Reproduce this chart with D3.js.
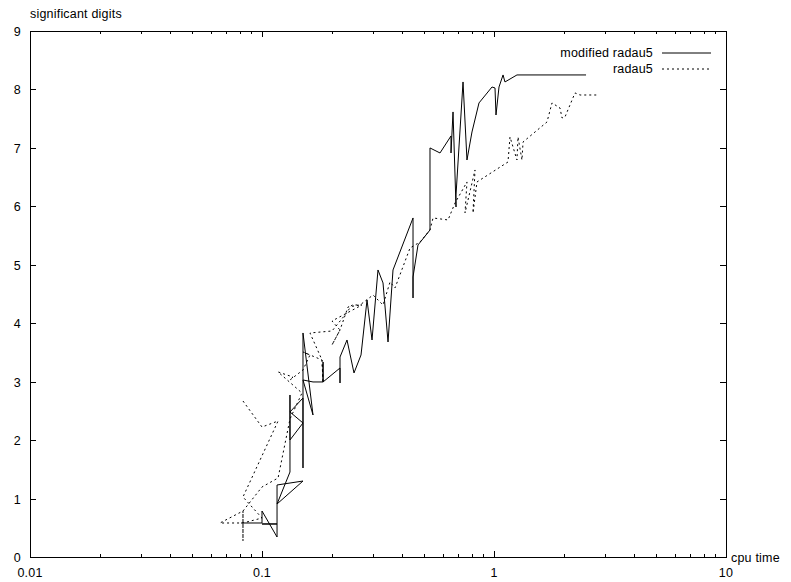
<!DOCTYPE html>
<html>
<head>
<meta charset="utf-8">
<script src="https://cdn.jsdelivr.net/npm/d3@7"></script>
<style>
body{margin:0;background:#fff}
text{font-family:"Liberation Sans",Arial,sans-serif;font-size:12.5px;letter-spacing:0.2px;fill:#000}
</style>
</head>
<body>
<svg id="chart" width="791" height="582"></svg>
<script>
// modified radau5 : cpu time vs significant digits
var modTime=[0.0812,0.1,0.1,0.1161,0.1161,0.1,0.1161,0.1161,0.1502,0.1161,0.132,0.132,0.132,0.1502,0.132,0.1502,0.1502,0.1502,0.1659,0.1502,0.1659,0.1833,0.1833,0.1833,0.2169,0.2169,0.2169,0.2325,0.2492,0.2672,0.2836,0.298,0.3162,0.3324,0.3493,0.367,0.4477,0.4477,0.4477,0.4704,0.5298,0.5298,0.5852,0.6527,0.6527,0.6658,0.6859,0.6859,0.7353,0.7648,0.8036,0.8616,0.9804,1.01,1.02,1.051,1.094,1.115,1.256,2.493];
var modDigits=[0.582,0.582,0.787,0.342,0.565,0.565,0.565,1.232,1.3,0.907,1.454,2.772,2.002,2.293,2.481,2.721,1.523,3.833,2.43,3.029,2.995,2.995,3.337,2.995,3.234,2.977,3.422,3.713,3.149,3.457,4.398,3.713,4.911,4.689,3.679,4.911,5.801,4.432,4.791,5.339,5.595,6.999,6.913,7.204,6.913,7.615,5.989,6.194,8.128,6.793,7.272,7.769,8.042,8.025,7.563,8.042,8.248,8.128,8.248,8.248];
// radau5
var radTime=[0.0828,0.1,0.1173,0.0828,0.1,0.0828,0.0659,0.0828,0.0828,0.0828,0.1,0.1173,0.132,0.1487,0.1173,0.136,0.132,0.1502,0.161,0.1502,0.1814,0.1833,0.1814,0.161,0.2003,0.2279,0.2443,0.2698,0.2003,0.2169,0.2003,0.2169,0.2348,0.2645,0.301,0.3324,0.3563,0.3744,0.4345,0.4799,0.5298,0.546,0.6336,0.6792,0.7648,0.7499,0.8281,0.8117,0.8447,1.149,1.172,1.256,1.269,1.32,1.334,1.692,1.778,1.925,1.964,2.023,2.234,2.349,2.78];
var radDigits=[2.669,2.224,2.327,1.027,0.667,0.582,0.582,0.787,0.274,0.787,1.198,1.352,2.361,2.806,3.166,3.08,3.029,3.2,3.457,3.508,3.371,2.977,3.371,3.833,3.867,4.141,4.312,4.312,4.038,3.884,3.628,3.884,4.278,4.312,4.483,4.312,4.706,4.603,5.287,5.39,5.595,5.801,5.767,6.057,6.417,5.886,6.622,5.886,6.417,6.759,7.187,6.793,7.187,6.793,7.101,7.443,7.769,7.683,7.512,7.529,7.94,7.905,7.905];

var xMajor=[0.01,0.1,1,10];
var yMajor=[0,1,2,3,4,5,6,7,8,9];
var seriesNames=["modified radau5","radau5"];

var svg=d3.select("#chart");
var L=30,R=726,T=31,B=557;
var x=d3.scaleLog().domain([0.01,10]).range([L,R]);
var y=d3.scaleLinear().domain([0,9]).range([B,T]);

var xMinor=[];
xMajor.slice(0,-1).forEach(function(d){for(var k=2;k<10;k++)xMinor.push(d*k);});

// ticks, drawn inward on all four sides like gnuplot
var g=svg.append("g").attr("stroke","#000").attr("stroke-width",1).attr("shape-rendering","crispEdges");
xMajor.forEach(function(d){
	var px=Math.round(x(d))+0.5;
	g.append("line").attr("x1",px).attr("x2",px).attr("y1",B).attr("y2",B-6);
	g.append("line").attr("x1",px).attr("x2",px).attr("y1",T).attr("y2",T+6);
});
xMinor.forEach(function(d){
	var px=Math.round(x(d))+0.5;
	g.append("line").attr("x1",px).attr("x2",px).attr("y1",B).attr("y2",B-3);
	g.append("line").attr("x1",px).attr("x2",px).attr("y1",T).attr("y2",T+3);
});
yMajor.forEach(function(d){
	var py=Math.round(y(d))+0.5;
	g.append("line").attr("x1",L).attr("x2",L+6).attr("y1",py).attr("y2",py);
	g.append("line").attr("x1",R).attr("x2",R-6).attr("y1",py).attr("y2",py);
});
g.append("rect").attr("x",L+0.5).attr("y",T+0.5).attr("width",R-L).attr("height",B-T).attr("fill","none");

// tick labels
svg.selectAll(".yl").data(yMajor).enter().append("text")
	.attr("x",L-9).attr("y",d=>y(d)+5).attr("text-anchor","end").text(d=>d);
svg.selectAll(".xl").data(xMajor).enter().append("text")
	.attr("x",d=>x(d)).attr("y",B+20).attr("text-anchor","middle").text(d=>d);

svg.append("text").attr("x",L).attr("y",18).text("significant digits");
svg.append("text").attr("x",R+5).attr("y",B+5).text("cpu time");

// the two series
var line=d3.line().x(d=>x(d[0])).y(d=>y(d[1]));
var modData=d3.zip(modTime,modDigits);
var radData=d3.zip(radTime,radDigits);
svg.append("path").attr("d",line(modData)).attr("fill","none").attr("stroke","#000").attr("stroke-width",1);
svg.append("path").attr("d",line(radData)).attr("fill","none").attr("stroke","#000").attr("stroke-width",1).attr("stroke-dasharray","2,3");

// key
var key=svg.append("g");
seriesNames.forEach(function(n,i){
	var ky=53+i*16;
	key.append("text").attr("x",653).attr("y",ky+4).attr("text-anchor","end").text(n);
	key.append("line").attr("x1",662).attr("x2",711).attr("y1",ky).attr("y2",ky)
		.attr("stroke","#000").attr("stroke-dasharray",i?"2,3":null);
});
</script>
</body>
</html>
